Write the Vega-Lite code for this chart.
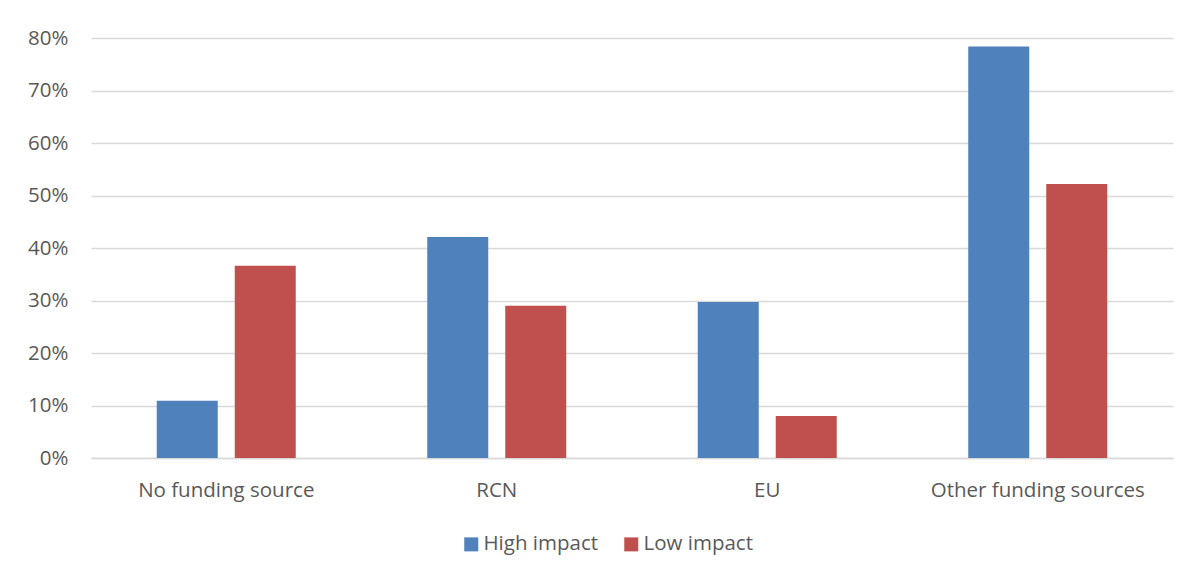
{
  "$schema": "https://vega.github.io/schema/vega-lite/v6.json",
  "width": 1082,
  "height": 420,
  "autosize": {"type": "none"},
  "padding": {"left": 91, "top": 38, "right": 20, "bottom": 115},
  "background": "#ffffff",
  "data": {
    "values": [
      {"source": "No funding source", "impact": "High impact", "share": 0.109},
      {"source": "No funding source", "impact": "Low impact", "share": 0.366},
      {"source": "RCN", "impact": "High impact", "share": 0.421},
      {"source": "RCN", "impact": "Low impact", "share": 0.290},
      {"source": "EU", "impact": "High impact", "share": 0.297},
      {"source": "EU", "impact": "Low impact", "share": 0.080},
      {"source": "Other funding sources", "impact": "High impact", "share": 0.784},
      {"source": "Other funding sources", "impact": "Low impact", "share": 0.522}
    ]
  },
  "mark": {"type": "bar"},
  "encoding": {
    "x": {
      "field": "source",
      "type": "nominal",
      "sort": ["No funding source", "RCN", "EU", "Other funding sources"],
      "scale": {"paddingInner": 0, "paddingOuter": 0},
      "axis": {
        "title": null,
        "labelAngle": 0,
        "ticks": false,
        "domain": true,
        "domainColor": "#d9d9d9",
        "domainWidth": 1.5,
        "labelPadding": 22,
        "labelLimit": 0,
        "labelFontSize": 20.5,
        "labelFont": "Open Sans",
        "labelColor": "#595959"
      }
    },
    "xOffset": {
      "field": "impact",
      "type": "nominal",
      "scale": {"paddingInner": 0.218, "paddingOuter": 0.843}
    },
    "y": {
      "field": "share",
      "type": "quantitative",
      "scale": {"domain": [0, 0.8], "nice": false},
      "axis": {
        "title": null,
        "format": ".0%",
        "values": [0, 0.1, 0.2, 0.3, 0.4, 0.5, 0.6, 0.7, 0.8],
        "ticks": false,
        "domain": false,
        "labelPadding": 23,
        "labelFontSize": 20.5,
        "labelFont": "Open Sans",
        "labelColor": "#595959",
        "gridColor": "#d9d9d9",
        "gridWidth": 1.5
      }
    },
    "color": {
      "field": "impact",
      "type": "nominal",
      "scale": {"domain": ["High impact", "Low impact"], "range": ["#4f81bd", "#c0504d"]},
      "legend": {
        "title": null,
        "orient": "none",
        "legendX": 370,
        "legendY": 496,
        "direction": "horizontal",
        "symbolType": "square",
        "symbolSize": 196,
        "symbolStrokeWidth": 0,
        "labelFontSize": 20.5,
        "labelFont": "Open Sans",
        "labelColor": "#595959",
        "labelOffset": 2,
        "columnPadding": 22
      }
    }
  },
  "config": {"view": {"stroke": null}}
}
